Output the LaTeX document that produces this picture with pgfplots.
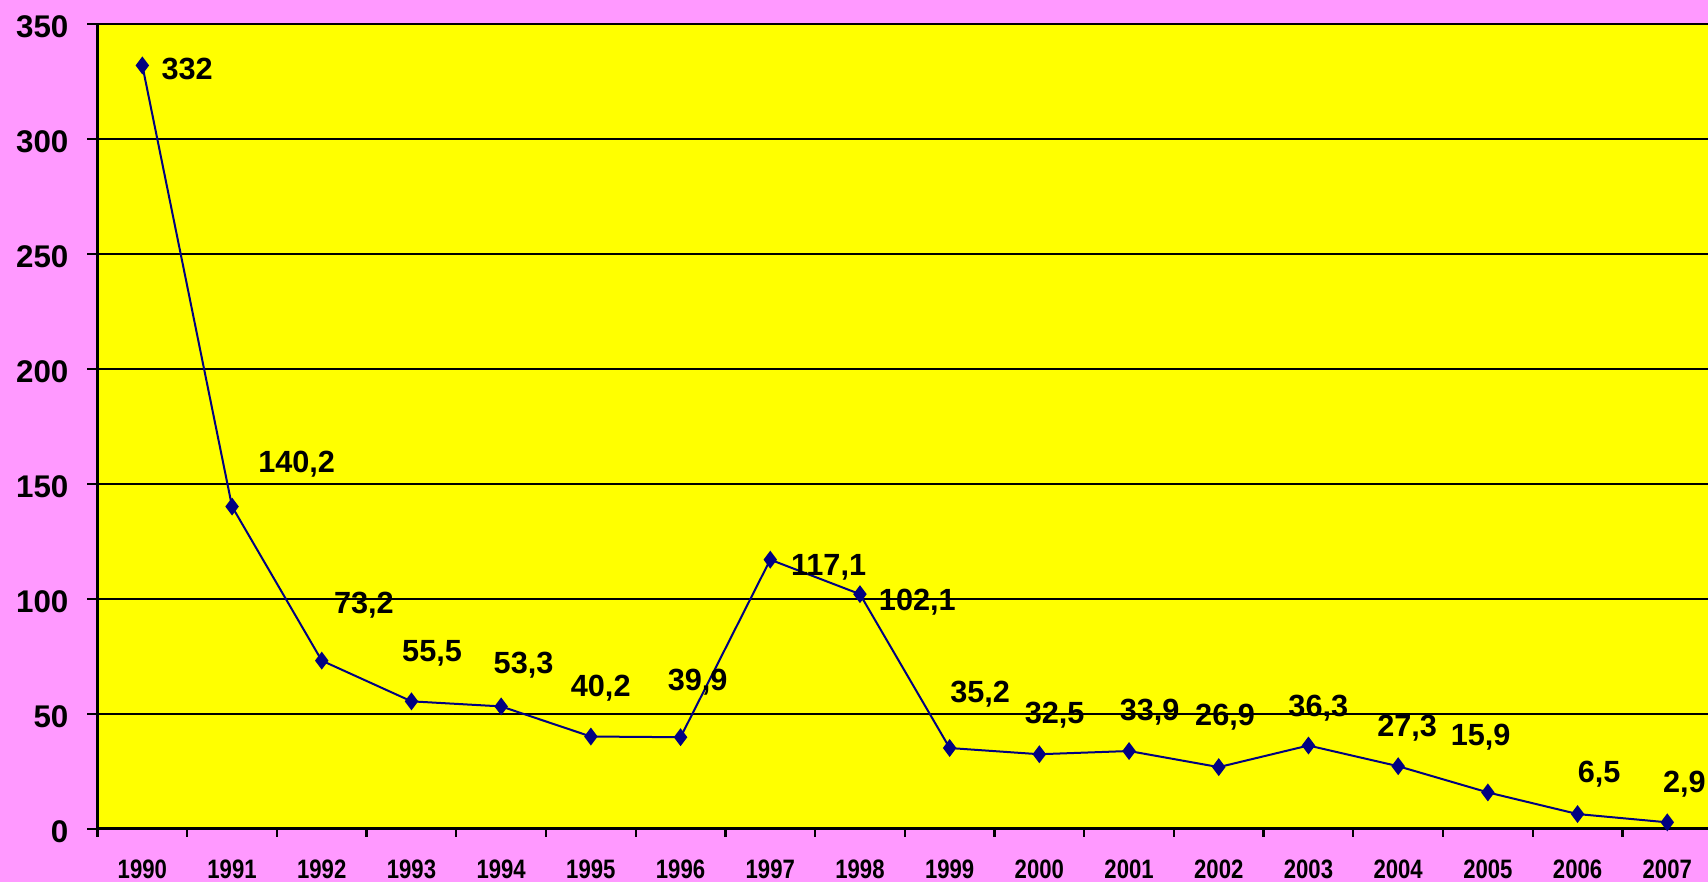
\documentclass[border=0pt]{standalone}
\usepackage{pgfplots}
\pgfplotsset{compat=1.18}
\usepackage{fontspec}
\setmainfont{Liberation Sans}
\newfontfamily\xfont[FakeStretch=0.83]{Liberation Sans}
\definecolor{bgpink}{HTML}{FF99FF}
\definecolor{plotyellow}{HTML}{FFFF00}
\definecolor{navyline}{HTML}{000080}
\begin{document}
\begin{tikzpicture}
\fill[bgpink] (0,0) rectangle (512.4pt,264.6pt);
\useasboundingbox (0,0) rectangle (512.4pt,264.6pt);
\begin{axis}[
  at={(29.25pt,15.9pt)}, anchor=south west, scale only axis,
  width=483.15pt, height=241.5pt,
  xmin=-0.5, xmax=17.454, ymin=0, ymax=350,
  axis background/.style={fill=plotyellow},
  axis x line*=bottom, axis y line*=left,
  axis line style={black, line width=0.9pt, -},
  ytick={0,50,...,350},
  ymajorgrids, grid style={black, line width=0.7pt},
  xtick={0,...,17},
  xticklabels={1990,1991,1992,1993,1994,1995,1996,1997,1998,1999,2000,2001,2002,2003,2004,2005,2006,2007},
  major x tick style={draw=none},
  minor xtick={-0.5,0.5,...,17.5},
  tick align=outside,
  major tick length=3pt, minor tick length=2.4pt,
  tick style={black, line width=0.7pt},
  /pgf/number format/assume math mode=true,
  yticklabel style={font=\fontsize{9.4}{10}\selectfont\bfseries, xshift=-2.2pt, yshift=-0.9pt},
  xticklabel style={font=\fontsize{8}{9}\selectfont\xfont\bfseries, yshift=-2.6pt},
  clip=false,
]
\addplot[navyline, line width=0.6pt, mark=diamond*, mark size=2.2pt, mark options={fill=navyline, draw=navyline}] coordinates {
(0,332) (1,140.2) (2,73.2) (3,55.5) (4,53.3) (5,40.2) (6,39.9) (7,117.1) (8,102.1)
(9,35.2) (10,32.5) (11,33.9) (12,26.9) (13,36.3) (14,27.3) (15,15.9) (16,6.5) (17,2.9)};
\begin{scope}[every node/.style={anchor=base, inner sep=0pt, font=\fontsize{9.2}{10}\selectfont\bfseries}]
\node at (axis cs:0.50,325.7) {332};
\node at (axis cs:1.72,155.2) {140,2};
\node at (axis cs:2.47,93.9) {73,2};
\node at (axis cs:3.23,73.0) {55,5};
\node at (axis cs:4.25,67.8) {53,3};
\node at (axis cs:5.11,57.4) {40,2};
\node at (axis cs:6.19,60.4) {39,9};
\node at (axis cs:7.65,110.4) {117,1};
\node at (axis cs:8.64,95.2) {102,1};
\node at (axis cs:9.34,55.2) {35,2};
\node at (axis cs:10.17,45.7) {32,5};
\node at (axis cs:11.23,47.0) {33,9};
\node at (axis cs:12.07,44.8) {26,9};
\node at (axis cs:13.11,49.1) {36,3};
\node at (axis cs:14.10,40.0) {27,3};
\node at (axis cs:14.92,36.5) {15,9};
\node at (axis cs:16.24,20.0) {6,5};
\node at (axis cs:17.19,15.7) {2,9};
\end{scope}
\end{axis}
\end{tikzpicture}
\end{document}
